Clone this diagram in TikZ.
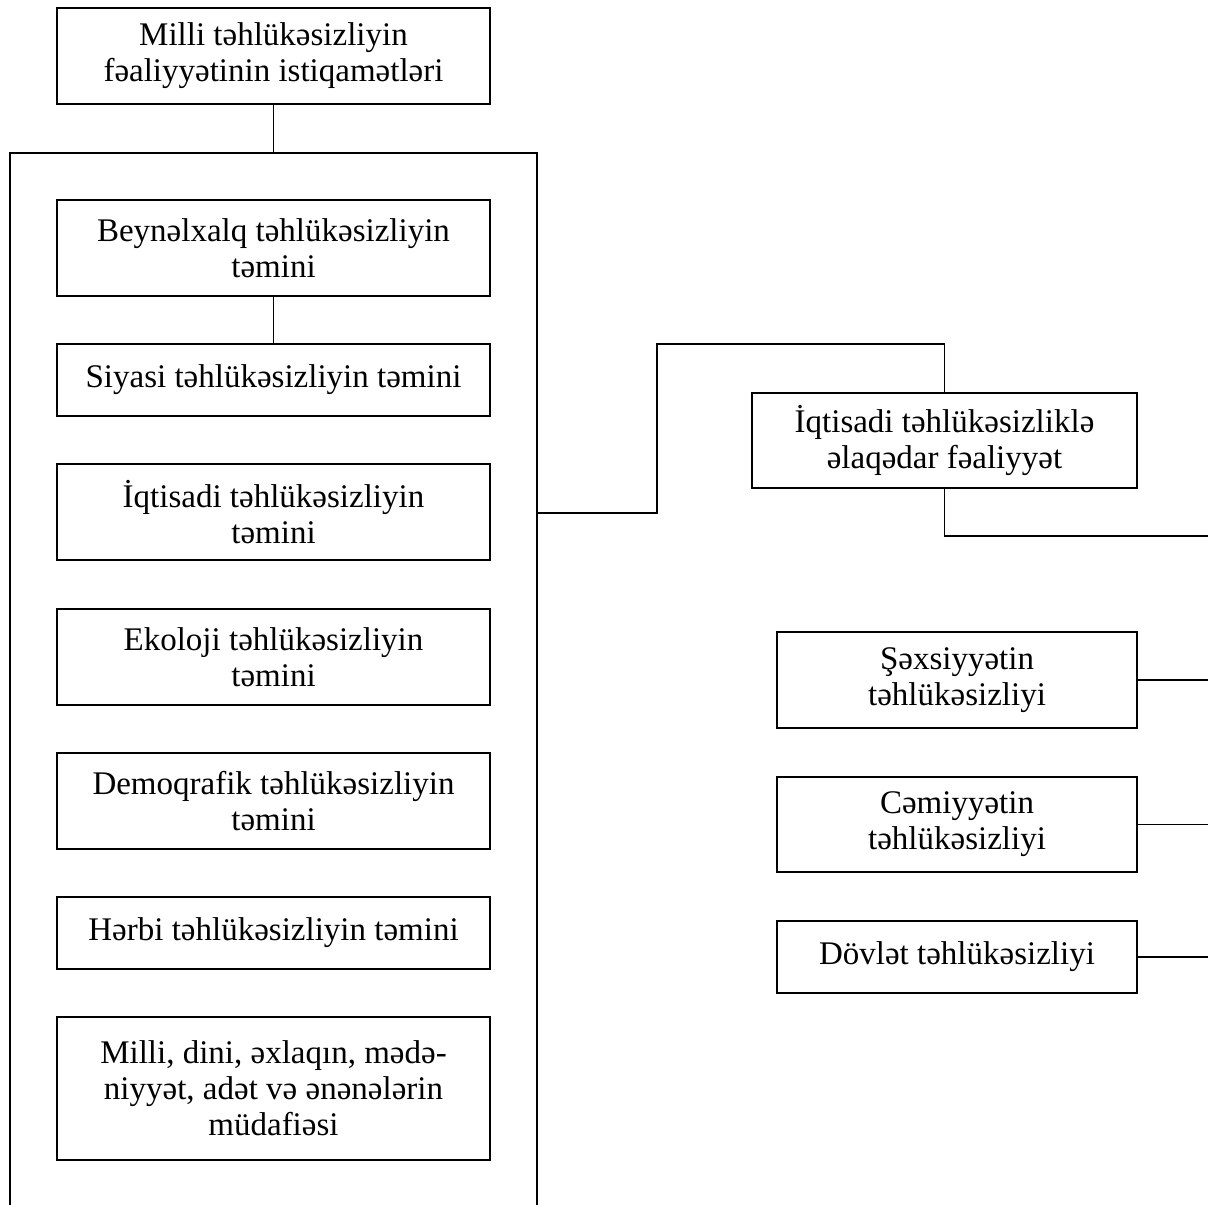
\documentclass[tikz,border=0pt]{standalone}
\usepackage{fontspec}
\setmainfont{Liberation Serif}

\begin{document}
\begin{tikzpicture}[x=1pt,y=-1pt]
    \tikzset{blok/.style={draw, line width=1.8pt, align=center, inner sep=0pt,
        font=\fontsize{33}{36}\selectfont},
      xett/.style={line width=1.8pt}}

    \path[use as bounding box, clip] (0,0) rectangle (1208,1205);

    % left column
    \node[blok, minimum width=433pt, minimum height=96pt] (esas) at (273.5,56) {Milli təhlükəsizliyin\\fəaliyyətinin istiqamətləri};

    \draw[xett] (10,1240) -- (10,153) -- (537,153) -- (537,1240);
    \coordinate (ustxett) at (273.5,153);
    \coordinate (cixis) at (537,513);

    \node[blok, minimum width=433pt, minimum height=96pt] (beyn) at (273.5,248) {Beynəlxalq təhlükəsizliyin\\təmini};
    \node[blok, minimum width=433pt, minimum height=72pt] (siyasi) at (273.5,380) {Siyasi təhlükəsizliyin təmini};
    \node[blok, minimum width=433pt, minimum height=96pt] (iqt) at (273.5,512) {İqtisadi təhlükəsizliyin\\təmini};
    \node[blok, minimum width=433pt, minimum height=96pt] (eko) at (273.5,657) {Ekoloji təhlükəsizliyin\\təmini};
    \node[blok, minimum width=433pt, minimum height=96pt] (demo) at (273.5,801) {Demoqrafik təhlükəsizliyin\\təmini};
    \node[blok, minimum width=433pt, minimum height=72pt] (herbi) at (273.5,933) {Hərbi təhlükəsizliyin təmini};
    \node[blok, minimum width=433pt, minimum height=143pt] (milli) at (273.5,1088.5) {Milli, dini, əxlaqın, mədə-\\niyyət, adət və ənənələrin\\müdafiəsi};

    \draw[xett] (esas.south) -- (ustxett);
    \draw[xett] (beyn.south) -- (siyasi.north);

    % right column
    \node[blok, minimum width=385pt, minimum height=95pt] (elaqe) at (944.5,440.5) {İqtisadi təhlükəsizliklə\\əlaqədar fəaliyyət};
    \node[blok, minimum width=360pt, minimum height=96pt] (sexs) at (957,680) {Şəxsiyyətin\\təhlükəsizliyi};
    \node[blok, minimum width=360pt, minimum height=95pt] (cem) at (957,824.5) {Cəmiyyətin\\təhlükəsizliyi};
    \node[blok, minimum width=360pt, minimum height=72pt] (dov) at (957,957) {Dövlət təhlükəsizliyi};

    \coordinate (dirsek) at (657,344);
    \coordinate (sagkenar) at (1230,536);

    \draw[xett] (cixis) -| (dirsek) -| (elaqe.north);
    \draw[xett] (elaqe.south) |- (sagkenar);
    \draw[xett] (sexs.east) -- ++(100,0);
    \draw[xett] (cem.east) -- ++(100,0);
    \draw[xett] (dov.east) -- ++(100,0);
\end{tikzpicture}
\end{document}
